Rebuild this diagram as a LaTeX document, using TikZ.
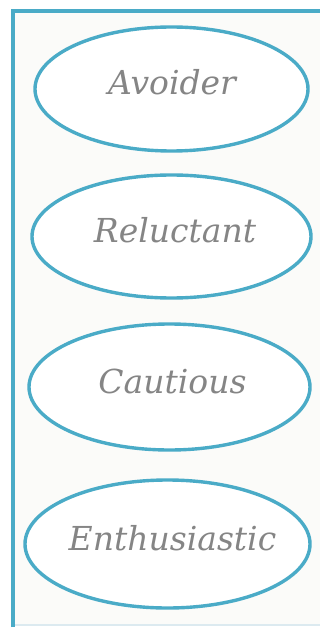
\documentclass[tikz,border=0pt]{standalone}
\usepackage{fontspec}
\setmainfont{DejaVu Serif}
\usetikzlibrary{shapes.geometric}
\definecolor{rimblue}{HTML}{4AABC7}
\definecolor{paleblue}{HTML}{DCEAF0}
\definecolor{panelbg}{HTML}{FBFBF9}
\definecolor{labelgray}{HTML}{858585}
\tikzset{
  stage/.style={ellipse, draw=rimblue, line width=3.4pt, fill=white, inner sep=0pt},
  stagetext/.style={font=\fontsize{33}{38}\selectfont\itshape, text=labelgray, inner sep=0pt}
}
\begin{document}
\begin{tikzpicture}[x=1pt, y=-1pt]
  \useasboundingbox (0,0) rectangle (320,628);
  \fill[white] (0,0) rectangle (320,628);
  % panel
  \fill[panelbg] (13,11) rectangle (320,625);
  \draw[paleblue, line width=1.5pt] (13,625) -- (320,625);
  \draw[rimblue, line width=3.4pt] (13,627) -- (13,11) -- (322,11);
  % stages
  \node[stage, minimum width=273pt, minimum height=124pt] (avoider) at (171.5,89) {};
  \node[stage, minimum width=279pt, minimum height=123pt] (reluctant) at (171.5,236.5) {};
  \node[stage, minimum width=281pt, minimum height=126pt] (cautious) at (169.5,387) {};
  \node[stage, minimum width=285pt, minimum height=128pt] (enthusiastic) at (167.5,544) {};
  \node[stagetext, anchor=base] (avoider-t) at (172,95) {Avoider};
  \node[stagetext, anchor=base] (reluctant-t) at (175,242) {Reluctant};
  \node[stagetext, anchor=base] (cautious-t) at (172.5,393) {Cautious};
  \node[stagetext, anchor=base] (enthusiastic-t) at (172.5,550) {Enthusiastic};
\end{tikzpicture}
\end{document}
